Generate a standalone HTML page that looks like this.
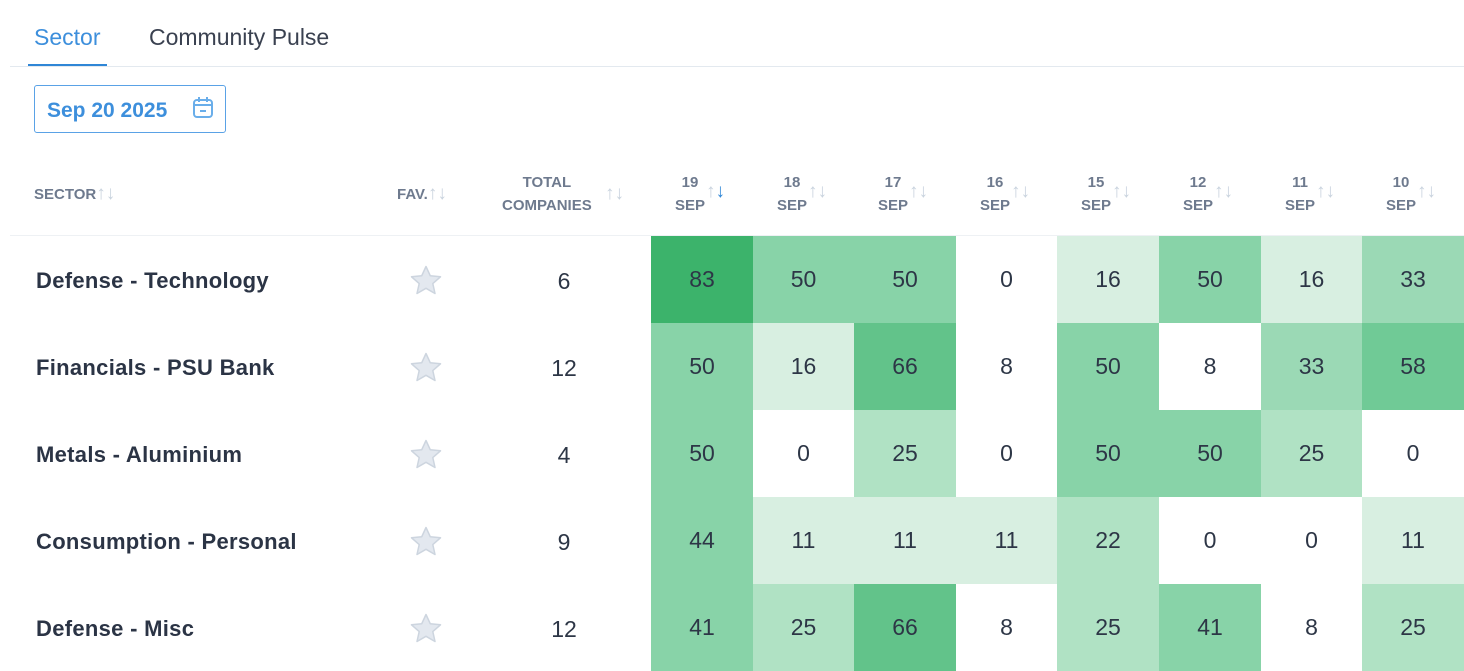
<!DOCTYPE html>
<html><head><meta charset="utf-8"><style>
body{margin:0;width:1464px;height:669px;overflow:hidden;background:#fff;font-family:"Liberation Sans",sans-serif;position:relative}
.tab{position:absolute;top:24px;font-size:23px}
.hdr{position:absolute;font-size:15px;font-weight:bold;color:#6e7a8e;text-align:center;line-height:23px}
.ar{color:#c9d3de;font-weight:normal;font-size:19px}
.cell{position:absolute;width:102px;height:87px;display:flex;align-items:center;justify-content:center;font-size:23px;color:#2d3646}
.name{position:absolute;left:36px;font-size:22px;font-weight:bold;color:#2b3445;letter-spacing:0.3px}
.star{position:absolute;left:410px}
.tot{position:absolute;left:514px;width:100px;text-align:center;font-size:23px;color:#2d3646}
</style></head><body>
<div class="tab" style="left:34px;color:#3d8fdc">Sector</div>
<div class="tab" style="left:149px;color:#3a4150">Community Pulse</div>
<div style="position:absolute;left:28px;top:64px;width:79px;height:3px;background:#2f86d6"></div>
<div style="position:absolute;left:10px;top:66px;width:1454px;height:1px;background:#e3e9ef"></div>
<div style="position:absolute;left:34px;top:85px;width:192px;height:48px;border:1px solid #5aa2e6;border-radius:3px;box-sizing:border-box"></div>
<div style="position:absolute;left:47px;top:99px;font-size:21px;font-weight:bold;color:#3d8fdc">Sep 20 2025</div>
<svg style="position:absolute;left:192px;top:96px" width="22" height="24" viewBox="0 0 22 24"><rect x="2" y="4" width="18" height="17" rx="3" fill="none" stroke="#6aaeea" stroke-width="2"/><line x1="2" y1="9" x2="20" y2="9" stroke="#6aaeea" stroke-width="2"/><line x1="7" y1="1" x2="7" y2="6" stroke="#6aaeea" stroke-width="2"/><line x1="15" y1="1" x2="15" y2="6" stroke="#6aaeea" stroke-width="2"/><line x1="8" y1="15" x2="14" y2="15" stroke="#6aaeea" stroke-width="2"/></svg>
<div class="hdr" style="left:34px;top:182px">SECTOR<span class="ar">↑↓</span></div>
<div class="hdr" style="left:397px;top:182px">FAV.<span class="ar">↑↓</span></div>
<div class="hdr" style="left:502px;top:171px">TOTAL<br>COMPANIES</div><div class="hdr ar" style="left:605px;top:182px">↑↓</div>
<div style="position:absolute;left:10px;top:235px;width:1454px;height:1px;background:#eef1f4"></div>
<div id="h"></div>
<div id="c"></div>
<script>
var days=["19","18","17","16","15","12","11","10"];
var x0=651,w=101.6,s="";
days.forEach(function(d,i){var x=Math.round(x0+i*w);
s+='<div class="hdr" style="left:'+(x+24)+'px;top:171px">'+d+'<br>SEP</div><div class="hdr ar" style="left:'+(x+55)+'px;top:180px">↑<span style="color:'+(i==0?'#2f86d6':'#c9d3de')+'">↓</span></div>';});
document.getElementById('h').innerHTML=s;
var rows=[["Defense - Technology",6,[83,50,50,0,16,50,16,33]],["Financials - PSU Bank",12,[50,16,66,8,50,8,33,58]],["Metals - Aluminium",4,[50,0,25,0,50,50,25,0]],["Consumption - Personal",9,[44,11,11,11,22,0,0,11]],["Defense - Misc",12,[41,25,66,8,25,41,8,25]]];
function col(v){if(v<10)return"#fff";if(v<21)return"#d8efe1";if(v<31)return"#b0e2c4";if(v<40)return"#9bd9b5";if(v<51)return"#88d3a8";if(v<60)return"#70ca96";if(v<70)return"#62c38a";return"#3cb36b";}
var star='<svg width="32" height="30" viewBox="0 0 32 30"><polygon points="16,1.5 20.3,10.8 30.5,11.8 22.8,18.6 25,28.5 16,23.3 7,28.5 9.2,18.6 1.5,11.8 11.7,10.8" fill="#e3e8ef" stroke="#cdd5df" stroke-width="1.5" stroke-linejoin="round"/></svg>';
s="";rows.forEach(function(r,j){var y=236+j*87;
s+='<div class="name" style="top:'+(y+32)+'px">'+r[0]+'</div><div class="star" style="top:'+(y+29)+'px">'+star+'</div><div class="tot" style="top:'+(y+32)+'px">'+r[1]+'</div>';
r[2].forEach(function(v,i){var x=Math.round(x0+i*w),x2=Math.round(x0+(i+1)*w);s+='<div class="cell" style="left:'+x+'px;top:'+y+'px;width:'+(x2-x)+'px;background:'+col(v)+'">'+v+'</div>';});});
document.getElementById('c').innerHTML=s;
</script>
</body></html>
